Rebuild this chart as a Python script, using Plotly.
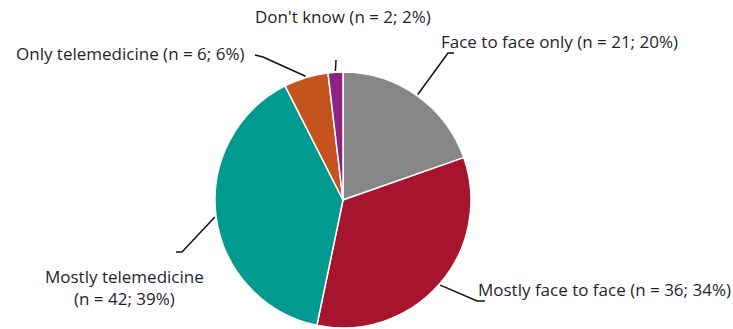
import math
import plotly.graph_objects as go

# ---- data ----
categories = ["Face to face only", "Mostly face to face", "Mostly telemedicine",
              "Only telemedicine", "Don't know"]
counts = [21, 36, 42, 6, 2]
colors = ["#878787", "#A6152D", "#009A90", "#C4541C", "#8E2283"]

W, H = 733, 329
CX, CY, R = 343, 200, 128

total = sum(counts)
pcts = [round(100 * c / total) for c in counts]
texts = [f"{cat} (n = {c}; {p}%)" for cat, c, p in zip(categories, counts, pcts)]
texts[2] = f"{categories[2]}<br>(n = {counts[2]}; {pcts[2]}%)"

# label layout (pixel positions of elbow, line end and text anchor)
label_layout = [
    dict(elbow=(448, 53), end=(454, 53), tx=439, ty=41, xa="left"),
    dict(elbow=(477, 301), end=(485, 301), tx=476, ty=289, xa="left"),
    dict(elbow=(182, 252), end=(176, 252), tx=124, ty=287, xa="center"),
    dict(elbow=(263, 57), end=(255, 55), tx=247, ty=54, xa="right"),
    dict(elbow=(336, 60), end=(336, 60), tx=343, ty=16, xa="center"),
]

fig = go.Figure()
fig.add_trace(go.Pie(
    labels=categories, values=counts, sort=False, direction="clockwise",
    rotation=0, textinfo="none", hoverinfo="label+value+percent",
    marker=dict(colors=colors, line=dict(color="white", width=1.5)),
    domain=dict(x=[(CX - R) / W, (CX + R) / W], y=[1 - (CY + R) / H, 1 - (CY - R) / H]),
    showlegend=False,
))

def px(x, y):
    return x / W, 1 - y / H

shapes = []
annotations = []
cum = 0
for c, t, lay in zip(counts, texts, label_layout):
    mid = (cum + c / 2) / total * 2 * math.pi
    cum += c
    sx = CX + R * 1.01 * math.sin(mid)
    sy = CY - R * 1.01 * math.cos(mid)
    pts = [(sx, sy), lay["elbow"], lay["end"]]
    path = "M " + " L ".join(f"{px(*p)[0]},{px(*p)[1]}" for p in pts)
    shapes.append(dict(type="path", path=path, xref="paper", yref="paper",
                       line=dict(color="#111111", width=1.5)))
    ax, ay = px(lay["tx"], lay["ty"])
    annotations.append(dict(text=t, x=ax, y=ay, xref="paper", yref="paper",
                            xanchor=lay["xa"], yanchor="middle", showarrow=False,
                            align="center",
                            font=dict(family="Open Sans", size=17, color="#1f1f2e")))

fig.update_layout(
    width=W, height=H, margin=dict(l=0, r=0, t=0, b=0),
    paper_bgcolor="white", plot_bgcolor="white",
    shapes=shapes, annotations=annotations,
)
fig.write_html("out.html", config={"displayModeBar": False},
               post_script="document.body.style.margin='0';")
